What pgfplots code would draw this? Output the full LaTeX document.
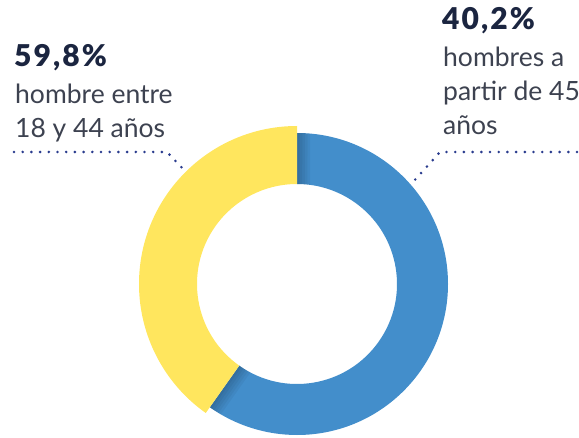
\documentclass[border=0pt]{standalone}
\usepackage{pgfplots}
\usepackage{pgfplotstable}
\pgfplotsset{compat=1.18}
\usetikzlibrary{calc}
\usepackage{fontspec}
\setmainfont{Lato}
\newfontfamily\heavy{Lato Black}[LetterSpace=7]

\definecolor{blueseg}{HTML}{438ECB}
\definecolor{yellowseg}{HTML}{FFE65E}
\definecolor{navy}{HTML}{1B2540}
\definecolor{bodytxt}{HTML}{3D4250}
\definecolor{dots}{HTML}{2A3C8E}

% share of each group (percent)
\pgfplotstableread{
group value
old   59.8
young 40.2
}\shares

\begin{document}
\begin{tikzpicture}
\pgfplotstablegetelem{0}{value}\of\shares \let\vold\pgfplotsretval
\pgfplotstablegetelem{1}{value}\of\shares \let\vyoung\pgfplotsretval
\pgfmathsetmacro{\split}{90+3.6*\vyoung}
\begin{axis}[
    scale only axis,
    width=579pt, height=437pt,
    xmin=0, xmax=579, ymin=0, ymax=437,
    hide axis,
    clip=false,
]
% blue ring (older group), clockwise from the top
\fill[blueseg] (axis cs:297,153) ++(90:151pt) arc[start angle=90, end angle=\split-360, radius=151pt]
    -- ($(axis cs:297,153)+(\split:100pt)$) arc[start angle=\split-360, end angle=90, radius=100pt] -- cycle;
% soft shadow on the blue next to both joins
\pgfplotsinvokeforeach{1,2,3,4,5}{
  \fill[black, opacity=0.045] (axis cs:297,153) ++(90:151pt) arc[start angle=90, end angle=90-#1, radius=151pt]
      -- ($(axis cs:297,153)+(90-1.5*#1:100pt)$) arc[start angle=90-1.5*#1, end angle=90, radius=100pt] -- cycle;
  \fill[black, opacity=0.045] (axis cs:297,153) ++(\split:151pt) arc[start angle=\split, end angle=\split+#1, radius=151pt]
      -- ($(axis cs:297,153)+(\split+1.5*#1:100pt)$) arc[start angle=\split+1.5*#1, end angle=\split, radius=100pt] -- cycle;
}
% yellow ring (younger group), slightly wider
\fill[yellowseg] (axis cs:297,153) ++(90:158pt) arc[start angle=90, end angle=\split, radius=158pt]
    -- ($(axis cs:297,153)+(\split:100pt)$) arc[start angle=\split, end angle=90, radius=100pt] -- cycle;

% leader lines
\draw[dots, line width=2.9pt, line cap=round, dash pattern=on 0pt off 8.7pt]
    (axis cs:14,285) -- (axis cs:167,285) -- (axis cs:185,266);
\draw[dots, line width=2.9pt, line cap=round, dash pattern=on 0pt off 8.7pt]
    (axis cs:577,285) -- (axis cs:440,285) -- (axis cs:413,255);

% labels
\node[anchor=base west, inner sep=0pt, text=navy, font=\fontsize{30}{32}\selectfont\heavy] at (axis cs:14,370) {59,8\%};
\node[anchor=base west, inner sep=0pt, text=bodytxt, font=\fontsize{26.5}{30}\selectfont] at (axis cs:15,333) {hombre entre};
\node[anchor=base west, inner sep=0pt, text=bodytxt, font=\fontsize{26.5}{30}\selectfont] at (axis cs:15,299) {18 y 44 años};

\node[anchor=base west, inner sep=0pt, text=navy, font=\fontsize{30}{32}\selectfont\heavy] at (axis cs:442,407) {40,2\%};
\node[anchor=base west, inner sep=0pt, text=bodytxt, font=\fontsize{26.5}{30}\selectfont] at (axis cs:443,370) {hombres a};
\node[anchor=base west, inner sep=0pt, text=bodytxt, font=\fontsize{26.5}{30}\selectfont] at (axis cs:443,336) {partir de 45};
\node[anchor=base west, inner sep=0pt, text=bodytxt, font=\fontsize{26.5}{30}\selectfont] at (axis cs:443,302) {años};
\end{axis}
\pgfresetboundingbox
\path[use as bounding box] (0,0) rectangle (579pt,437pt);
\end{tikzpicture}
\end{document}
